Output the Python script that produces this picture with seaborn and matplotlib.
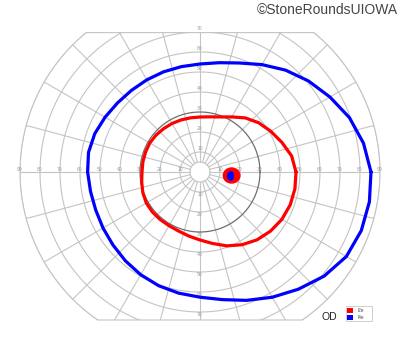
import numpy as np
import pandas as pd
import matplotlib
matplotlib.use("Agg")
import matplotlib.pyplot as plt
import seaborn as sns
from matplotlib.patches import Polygon, Ellipse, Rectangle

# ---------------- data (degrees of visual field) ----------------
# I4e isopter (blue): meridian angle (deg, CCW from right) -> eccentricity (deg)
blue_angles = [0, 10, 20, 30, 40, 50, 60, 70, 80, 90, 100, 110, 120, 130, 140, 150,
               160, 170, 180, 190, 200, 210, 220, 230, 240, 250, 260, 270, 280, 290,
               300, 310, 320, 330, 340, 350]
blue_radii = [85.5, 83, 79.5, 75, 70.8, 66.5, 62, 58, 55.5, 54, 53.5, 53.3, 53.2, 53.3,
              53.8, 54.8, 56, 56.6, 56.2, 55.6, 55.5, 56, 56.8, 58, 59.3, 60.5, 61.5, 62.6,
              64.8, 68.3, 72.3, 76.5, 81, 84.5, 85.8, 86]

# I2e isopter (red)
red_angles = [0, 10, 20, 30, 40, 50, 60, 70, 80, 90, 100, 110, 120, 130, 140, 150,
              160, 170, 180, 190, 200, 210, 220, 230, 240, 250, 260, 270, 280, 290,
              300, 310, 320, 330, 340, 350]
red_radii = [48, 46.5, 43.5, 40.8, 38.3, 35.3, 31.8, 29.3, 28, 27.5, 27.5, 27.7, 28,
             28.3, 28.7, 29, 29, 29, 29, 29.6, 30.4, 31, 31.1, 31, 31, 31.4, 32.5, 34,
             36.3, 39.3, 42, 44.3, 46, 47.3, 48, 48.2]

# blind spot (x, y, width, height in degrees)
blind_red = [15.8, -1.75, 8.3, 7.5]
blind_blue = [15.3, -2.0, 2.9, 4.2]

circle_radii = [5, 10, 20, 30, 40, 50, 60, 70, 80, 90]
meridians = list(range(0, 360, 15))
h_ticks = [10, 20, 30, 40, 50, 60, 70, 80, 90]
v_ticks = [10, 20, 30, 40, 50, 60, 70]
legend_labels = ["I2e", "I4e"]
legend_colors = ["#ff0000", "#0000ff"]
eye_label = "OD"
credit = "\u00a9StoneRoundsUIOWA"

# ---------------- figure ----------------
sns.set_style("white")
plt.rcParams["font.family"] = ["Liberation Sans", "DejaVu Sans"]

fig = plt.figure(figsize=(4.0, 3.52), dpi=100)
ax = fig.add_axes([0, 0, 1, 1])
ax.set_xlim(-100, 100)
ax.set_ylim(-90, 86)
ax.axis("off")

R = 90
TOP, BOT = 69.7, -74.0
a_top = np.degrees(np.arcsin(TOP / R))
a_bot = np.degrees(np.arcsin(BOT / R))
arc_r = np.radians(np.linspace(a_top, a_bot, 80))
arc_l = np.radians(np.linspace(180 - a_bot, 180 - a_top, 80))
bx = np.concatenate([R * np.cos(arc_r), R * np.cos(arc_l)])
by = np.concatenate([R * np.sin(arc_r), R * np.sin(arc_l)])
boundary = Polygon(np.column_stack([bx, by]), closed=True, facecolor="none",
                   edgecolor="#c4c4c4", lw=0.8, zorder=2)
ax.add_patch(boundary)

grid_c = "#c4c4c4"
t = np.linspace(0, 2 * np.pi, 361)
for r in circle_radii:
    if r == 30:
        continue
    ln, = ax.plot(r * np.cos(t), r * np.sin(t), color=grid_c, lw=0.8, zorder=1)
    ln.set_clip_path(boundary)
ax.plot(30 * np.cos(t), 30 * np.sin(t), color="#6e6e6e", lw=0.9, zorder=3)

for m in meridians:
    a = np.radians(m)
    ln, = ax.plot([5 * np.cos(a), 95 * np.cos(a)], [5 * np.sin(a), 95 * np.sin(a)],
                  color=grid_c, lw=0.8, zorder=1)
    ln.set_clip_path(boundary)

lab_kw = dict(fontsize=3.6, color="#9a9a9a", ha="center", va="center", zorder=2)
for v in h_ticks:
    ax.text(-v, 1.3, str(v), **lab_kw)
    ax.text(v, 1.3, str(v), **lab_kw)
for v in v_ticks:
    ax.text(0, v + 1.5, str(v), **lab_kw)
    ax.text(0, -v - 1.5, str(v), **lab_kw)

# isopters
def to_xy(ang, rad):
    a = np.radians(list(ang) + [ang[0]])
    r = np.array(list(rad) + [rad[0]])
    return pd.DataFrame({"x": r * np.cos(a), "y": r * np.sin(a)})

bdf = to_xy(blue_angles, blue_radii)
rdf = to_xy(red_angles, red_radii)
sns.lineplot(data=bdf, x="x", y="y", sort=False, estimator=None, color="#0000ff",
             lw=2.3, ax=ax, zorder=4, solid_joinstyle="round", solid_capstyle="round")
sns.lineplot(data=rdf, x="x", y="y", sort=False, estimator=None, color="#ff0000",
             lw=2.3, ax=ax, zorder=5, solid_joinstyle="round", solid_capstyle="round")

ax.add_patch(Ellipse((blind_red[0], blind_red[1]), blind_red[2], blind_red[3],
                     color="#ff0000", zorder=6))
ax.add_patch(Ellipse((blind_blue[0], blind_blue[1]), blind_blue[2], blind_blue[3],
                     color="#0000ff", zorder=7))

ax.set_xlim(-100, 100)
ax.set_ylim(-90, 86)

# legend box
ax.add_patch(Rectangle((72.9, -74.5), 13.3, 7.6, facecolor="white",
                       edgecolor="#c8c8c8", lw=0.6, zorder=6))
for i, (lab, col) in enumerate(zip(legend_labels, legend_colors)):
    y0 = -70.4 - i * 3.65
    ax.add_patch(Rectangle((73.6, y0), 3.0, 2.6, facecolor=col, edgecolor="none", zorder=7))
    ax.text(79.0, y0 + 1.3, lab, fontsize=3.3, color="#444444", va="center", ha="left", zorder=7)

ax.text(64.5, -72.3, eye_label, fontsize=7.5, color="#222222", ha="center", va="center")
fig.text(398 / 400, 1 - 2.5 / 352, credit, fontsize=10, color="#444444",
         ha="right", va="top")

fig.savefig("out.png", dpi=100)
